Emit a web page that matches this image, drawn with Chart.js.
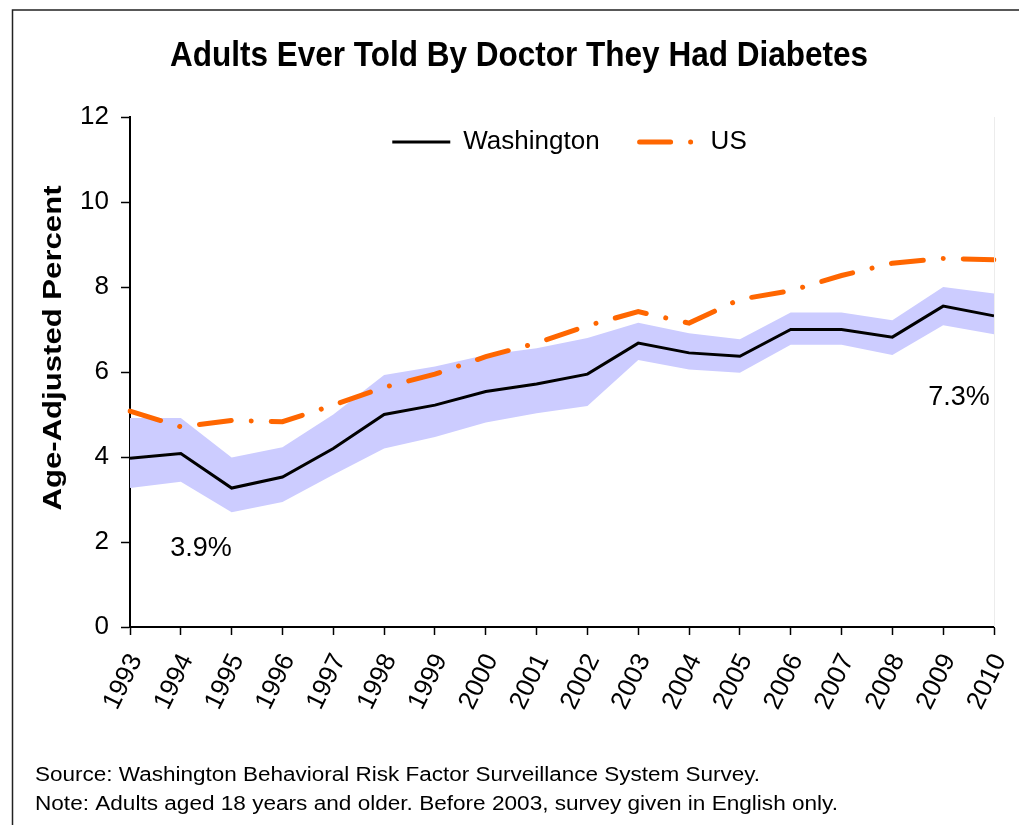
<!DOCTYPE html>
<html>
<head>
<meta charset="utf-8">
<script src="https://cdn.jsdelivr.net/npm/chart.js@4/dist/chart.umd.min.js"></script>
<style>
  html, body { margin: 0; padding: 0; background: #fff; }
</style>
</head>
<body>
<canvas id="chart" width="1019" height="825"></canvas>
<script>
const years = ['1993', '1994', '1995', '1996', '1997', '1998', '1999', '2000', '2001',
               '2002', '2003', '2004', '2005', '2006', '2007', '2008', '2009', '2010'];
const washington = [3.97, 4.08, 3.27, 3.53, 4.2, 5.0, 5.22, 5.54, 5.72, 5.95, 6.68, 6.45, 6.37, 7.0, 7.0, 6.82, 7.55, 7.32];
const waUpper = [4.92, 4.92, 3.99, 4.23, 5.0, 5.93, 6.13, 6.4, 6.56, 6.8, 7.16, 6.91, 6.77, 7.4, 7.4, 7.22, 8.0, 7.85];
const waLower = [3.27, 3.42, 2.7, 2.94, 3.58, 4.2, 4.47, 4.81, 5.03, 5.2, 6.28, 6.06, 5.98, 6.64, 6.64, 6.4, 7.1, 6.89];
const us = [5.08, 4.71, 4.86, 4.83, 5.22, 5.64, 5.95, 6.36, 6.68, 7.09, 7.42, 7.15, 7.71, 7.91, 8.27, 8.56, 8.67, 8.64];
const endLabels = ['3.9%', '7.3%'];

const FONT = '"Liberation Sans", Arial, sans-serif';
const LEGEND_PAD = 40;

// draw text squeezed/stretched to a given width (the original uses a narrow face)
const fitText = (ctx, text, x, y, width, font, align) => {
    ctx.save();
    ctx.font = font;
    const s = width / ctx.measureText(text).width;
    ctx.translate(x, y);
    ctx.scale(s, 1);
    ctx.textAlign = align;
    ctx.fillText(text, 0, 0);
    ctx.restore();
};

const decorPlugin = {
    id: 'decor',
    afterLayout(chart) {
        // move the legend down into the top of the plot
        const lg = chart.legend;
        const h = lg.height;
        lg.left = 130;
        lg.right = 1009;
        lg.width = lg.right - lg.left;
        lg.top = 142 - LEGEND_PAD - 13;
        lg.bottom = lg.top + h;
    },
    beforeDraw(chart) {
        const { ctx, width, height } = chart;
        ctx.save();
        ctx.fillStyle = '#fff';
        ctx.fillRect(0, 0, width, height);

        // outer frame (left and top only are visible)
        ctx.strokeStyle = '#222';
        ctx.lineWidth = 1.5;
        ctx.beginPath();
        ctx.moveTo(12.5, height);
        ctx.lineTo(12.5, 10);
        ctx.lineTo(width, 10);
        ctx.stroke();

        ctx.fillStyle = '#000';
        ctx.textBaseline = 'alphabetic';
        fitText(ctx, 'Adults Ever Told By Doctor They Had Diabetes', 519, 66, 698, 'bold 35px ' + FONT, 'center');

        ctx.save();
        ctx.translate(61, 348);
        ctx.rotate(-Math.PI / 2);
        fitText(ctx, 'Age-Adjusted Percent', 0, 0, 325, 'bold 25px ' + FONT, 'center');
        ctx.restore();

        fitText(ctx, 'Source: Washington Behavioral Risk Factor Surveillance System Survey.', 35, 781, 725, '20px ' + FONT, 'left');
        fitText(ctx, 'Note: Adults aged 18 years and older. Before 2003, survey given in English only.', 35, 810, 803, '20px ' + FONT, 'left');
        ctx.restore();
    },
    afterDatasetsDraw(chart) {
        const { ctx, chartArea } = chart;
        const xs = chart.scales.x;
        const ys = chart.scales.y;
        ctx.save();
        ctx.strokeStyle = '#ececec';
        ctx.lineWidth = 1;
        ctx.beginPath();
        ctx.moveTo(chartArea.right + 0.5, chartArea.top);
        ctx.lineTo(chartArea.right + 0.5, chartArea.bottom);
        ctx.stroke();

        ctx.font = '27px ' + FONT;
        ctx.fillStyle = '#000';
        ctx.textAlign = 'center';
        ctx.fillText(endLabels[0], xs.getPixelForValue(0) + 71, ys.getPixelForValue(washington[0]) + 90);
        const last = washington.length - 1;
        ctx.fillText(endLabels[1], xs.getPixelForValue(last) - 35, ys.getPixelForValue(washington[last]) + 82);
        ctx.restore();
    }
};

new Chart(document.getElementById('chart'), {
    type: 'line',
    data: {
        labels: years,
        datasets: [
            {
                label: 'Washington',
                data: washington,
                borderColor: '#000',
                backgroundColor: '#000',
                borderWidth: 3,
                pointRadius: 0,
                tension: 0,
                fill: false,
                order: 0
            },
            {
                label: 'US',
                data: us,
                borderColor: '#ff6600',
                backgroundColor: '#ff6600',
                borderWidth: 5,
                borderDash: [32, 20, 0.01, 20],
                borderCapStyle: 'round',
                pointRadius: 0,
                tension: 0,
                fill: false,
                order: 1
            },
            {
                label: 'upper',
                data: waUpper,
                borderWidth: 0,
                borderColor: 'rgba(0,0,0,0)',
                backgroundColor: '#ccccff',
                pointRadius: 0,
                fill: '+1',
                order: 2
            },
            {
                label: 'lower',
                data: waLower,
                borderWidth: 0,
                borderColor: 'rgba(0,0,0,0)',
                backgroundColor: '#ccccff',
                pointRadius: 0,
                fill: false,
                order: 3
            }
        ]
    },
    options: {
        responsive: false,
        animation: false,
        events: [],
        layout: { padding: { top: 117 - (26 + LEGEND_PAD + 10), left: 0, right: 25, bottom: 98 } },
        plugins: {
            title: { display: false },
            tooltip: { enabled: false },
            legend: {
                position: 'top',
                align: 'center',
                labels: {
                    generateLabels: (chart) => Chart.defaults.plugins.legend.labels.generateLabels(chart)
                        .filter((item) => item.datasetIndex < 2)
                        .map((item) => item.datasetIndex === 1
                            ? { ...item, lineCap: 'round', lineDash: [31, 20, 0.01, 60] }
                            : item),
                    usePointStyle: true,
                    pointStyle: 'line',
                    pointStyleWidth: 58,
                    padding: LEGEND_PAD,
                    color: '#000',
                    font: { size: 26, family: FONT }
                }
            }
        },
        scales: {
            x: {
                type: 'category',
                offset: false,
                grid: {
                    display: true,
                    drawOnChartArea: false,
                    drawTicks: true,
                    tickLength: 8,
                    tickColor: '#000',
                    tickWidth: 1.5
                },
                border: { display: true, color: '#000', width: 2 },
                ticks: {
                    autoSkip: false,
                    maxRotation: 64,
                    minRotation: 64,
                    padding: 14,
                    labelOffset: 6,
                    color: '#000',
                    font: { size: 26, family: FONT }
                },
                afterFit: (scale) => {
                    scale.height = 100;
                    scale.paddingLeft = 0;
                    scale.paddingRight = 0;
                }
            },
            y: {
                min: 0,
                max: 12,
                grid: {
                    display: true,
                    drawOnChartArea: false,
                    drawTicks: true,
                    tickLength: 9,
                    tickColor: '#000',
                    tickWidth: 1.5
                },
                border: { display: true, color: '#000', width: 2 },
                ticks: {
                    stepSize: 2,
                    padding: 12,
                    color: '#000',
                    font: { size: 26, family: FONT }
                },
                afterFit: (scale) => { scale.width = 130; }
            }
        }
    },
    plugins: [decorPlugin]
});
</script>
</body>
</html>
